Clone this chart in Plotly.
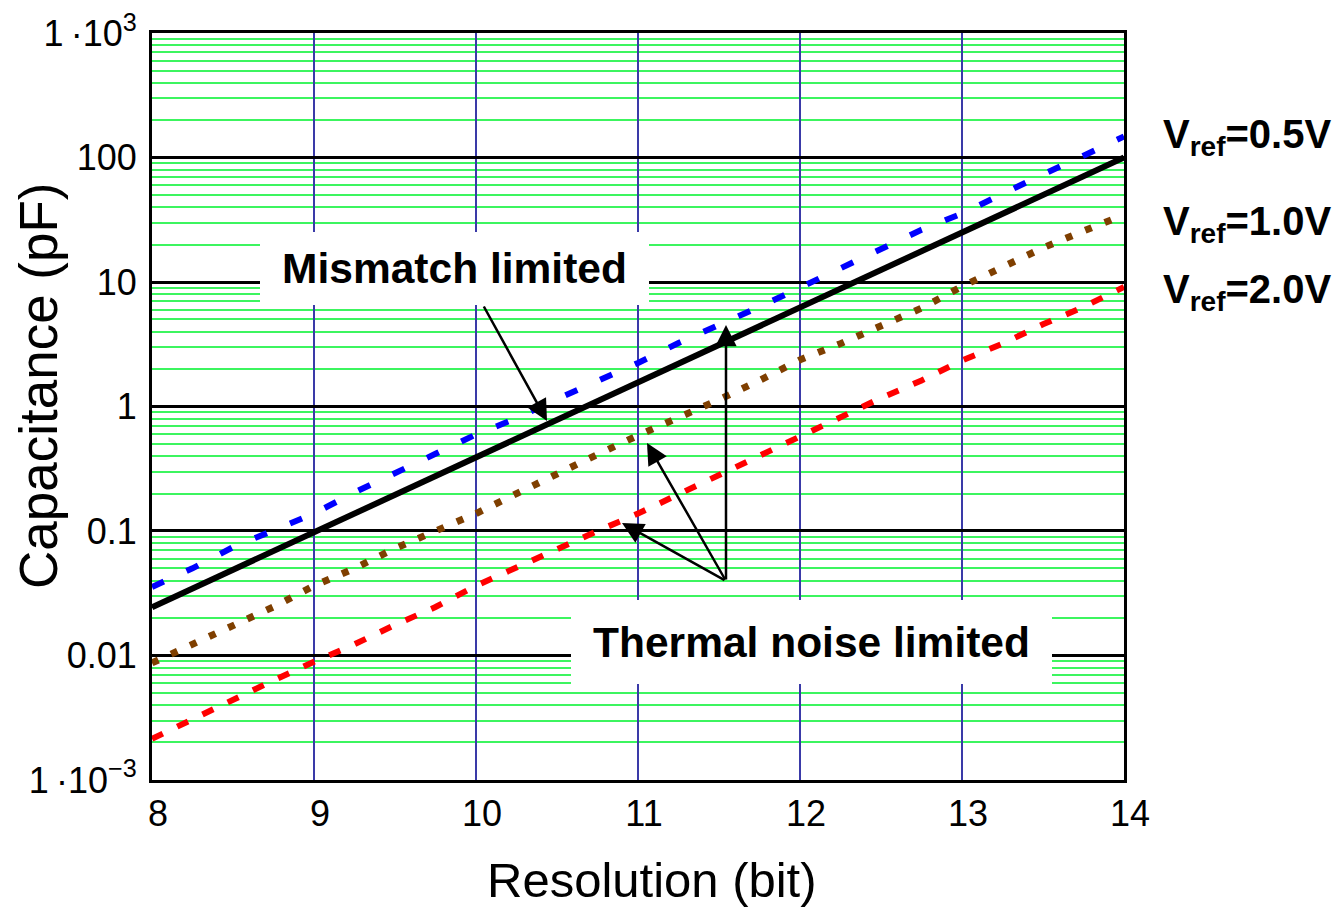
import plotly.graph_objects as go

# ---------------- data ----------------
bits_half = [8.0, 8.5, 9.0, 9.5, 10.0, 10.5, 11.0, 11.5, 12.0, 12.5, 13.0, 13.5, 14.0]
mismatch_cap = [0.0244, 0.0488, 0.0977, 0.195, 0.391, 0.781, 1.56, 3.13,
                6.25, 12.5, 25.0, 50.0, 100.0]

bits_q = [8.0, 8.25, 8.5, 8.75, 9.0, 9.25, 9.5, 9.75, 10.0, 10.25, 10.5, 10.75,
          11.0, 11.25, 11.5, 11.75, 12.0, 12.25, 12.5, 12.75, 13.0, 13.25,
          13.5, 13.75, 14.0]
thermal_05v = [0.0355, 0.0501, 0.0741, 0.102, 0.138, 0.204, 0.295, 0.417,
               0.596, 0.804, 1.148, 1.585, 2.239, 3.236, 4.467, 6.31,
               9.02, 12.88, 18.2, 26.3, 35.5, 51.3, 73.3, 103.5, 147.9]
thermal_10v = [0.00871, 0.01247, 0.01738, 0.02455, 0.0363, 0.0501, 0.0724,
               0.100, 0.138, 0.1995, 0.282, 0.412, 0.585, 0.802, 1.135,
               1.622, 2.371, 3.199, 4.467, 6.166, 9.226, 13.09, 18.84,
               25.7, 34.7]
thermal_20v = [0.00214, 0.00309, 0.00447, 0.00631, 0.00891, 0.0123, 0.0176,
               0.0245, 0.0363, 0.0513, 0.0724, 0.100, 0.138, 0.197, 0.282,
               0.412, 0.575, 0.822, 1.17, 1.62, 2.34, 3.20, 4.57, 6.31, 9.12]

x_ticks = [8, 9, 10, 11, 12, 13, 14]
y_tickvals = [0.001, 0.01, 0.1, 1, 10, 100, 1000]
y_ticktext = ["1\u2009\u00b710<sup>\u22123</sup>", "0.01", "0.1", "1", "10", "100",
              "1\u2009\u00b710<sup>3</sup>"]
vref_labels = ["0.5V", "1.0V", "2.0V"]

# ---------------- layout geometry (page pixels) ----------------
OFF = 8                      # default body margin of the html page
W, H = 1344 - OFF, 907 - OFF
L, R, T, B = 152, 1124, 33, 780   # plot area in page pixels
PW, PH = R - L, B - T


def px(xp):
    return (xp - L) / PW


def py(yp):
    return (B - yp) / PH


FONT = "Liberation Sans, Arial, sans-serif"

fig = go.Figure()

fig.add_trace(go.Scatter(x=bits_half, y=mismatch_cap, mode="lines",
                         line=dict(color="#000000", width=6),
                         showlegend=False))
fig.add_trace(go.Scatter(x=bits_q, y=thermal_05v, mode="lines",
                         line=dict(color="#0000ff", width=6, dash="13px,25px"),
                         showlegend=False))
fig.add_trace(go.Scatter(x=bits_q, y=thermal_10v, mode="lines",
                         line=dict(color="#7f3f00", width=7, dash="7px,14px"),
                         showlegend=False))
fig.add_trace(go.Scatter(x=bits_q, y=thermal_20v, mode="lines",
                         line=dict(color="#ff0000", width=6, dash="12px,16px"),
                         showlegend=False))

minor_vals = [d * 10.0 ** e for e in range(-3, 3) for d in range(2, 10)]

fig.update_xaxes(
    range=[8, 14], tickmode="array", tickvals=x_ticks,
    ticktext=[str(v) for v in x_ticks],
    showgrid=True, gridcolor="#3a3aa8", gridwidth=1.5,
    showline=True, linecolor="black", linewidth=3, mirror=True,
    ticks="", zeroline=False, ticklabelstandoff=0, ticklabelshift=6,
    ticklabeloverflow="allow",
    tickfont=dict(family=FONT, size=36, color="black"),
)
fig.update_yaxes(
    type="log", range=[-3.0005, 3.0005], tickmode="array", tickvals=y_tickvals,
    ticktext=y_ticktext,
    showgrid=True, gridcolor="black", gridwidth=3,
    minor=dict(tickmode="array", tickvals=minor_vals, showgrid=True,
               gridcolor="#3cf55f", gridwidth=2, ticks=""),
    showline=True, linecolor="black", linewidth=3, mirror=True,
    ticks="", zeroline=False, ticklabelstandoff=5,
    ticklabeloverflow="allow",
    tickfont=dict(family=FONT, size=36, color="black"),
)

ann = []
# white label boxes with the region names
ann.append(dict(text="<b>Mismatch limited</b>", xref="paper", yref="paper",
                x=px(454.5), y=py(268.5), xanchor="center", yanchor="middle",
                showarrow=False,
                width=389, height=73, bgcolor="white", borderpad=0,
                borderwidth=0, align="center", valign="middle",
                font=dict(family=FONT, size=42.5, color="black")))
ann.append(dict(text="<b>Thermal noise limited</b>", xref="paper", yref="paper",
                x=px(811.5), y=py(642), xanchor="center", yanchor="middle",
                showarrow=False,
                width=481, height=84, bgcolor="white", borderpad=0,
                borderwidth=0, align="center", valign="middle",
                font=dict(family=FONT, size=42.5, color="black")))

# arrows (head in page pixels, tail offset in pixels)
arrows = [((547, 421), (483, 305)),
          ((726, 325), (726, 581)),
          ((647, 443), (726, 581)),
          ((622, 523), (726, 581))]
for (hx, hy), (tx, ty) in arrows:
    ann.append(dict(text="", xref="paper", yref="paper", x=px(hx), y=py(hy),
                    ax=tx - hx, ay=ty - hy, showarrow=True, arrowhead=2,
                    arrowsize=1.7, arrowwidth=2.5, arrowcolor="black",
                    standoff=0, startstandoff=0))

for lab, yc in zip(vref_labels, [137, 224, 292]):
    ann.append(dict(text="<b>V<sub>ref</sub>=" + lab + "</b>", xref="paper",
                    yref="paper", x=px(1161), y=py(yc), xanchor="left",
                    yanchor="middle", showarrow=False,
                    font=dict(family=FONT, size=40, color="black")))

ann.append(dict(text="Capacitance (pF)", xref="paper", yref="paper",
                x=px(38), y=py(386), xanchor="center", yanchor="middle",
                textangle=-90, showarrow=False,
                font=dict(family=FONT, size=53, color="black")))
ann.append(dict(text="Resolution (bit)", xref="paper", yref="paper",
                x=px(652), y=py(880), xanchor="center", yanchor="middle",
                showarrow=False,
                font=dict(family=FONT, size=49, color="black")))

fig.update_layout(
    width=W, height=H,
    margin=dict(l=L - OFF, r=W - (R - OFF), t=T - OFF, b=H - (B - OFF),
                autoexpand=False),
    paper_bgcolor="white", plot_bgcolor="white",
    annotations=ann, showlegend=False,
)

fig.write_html("out.html")
